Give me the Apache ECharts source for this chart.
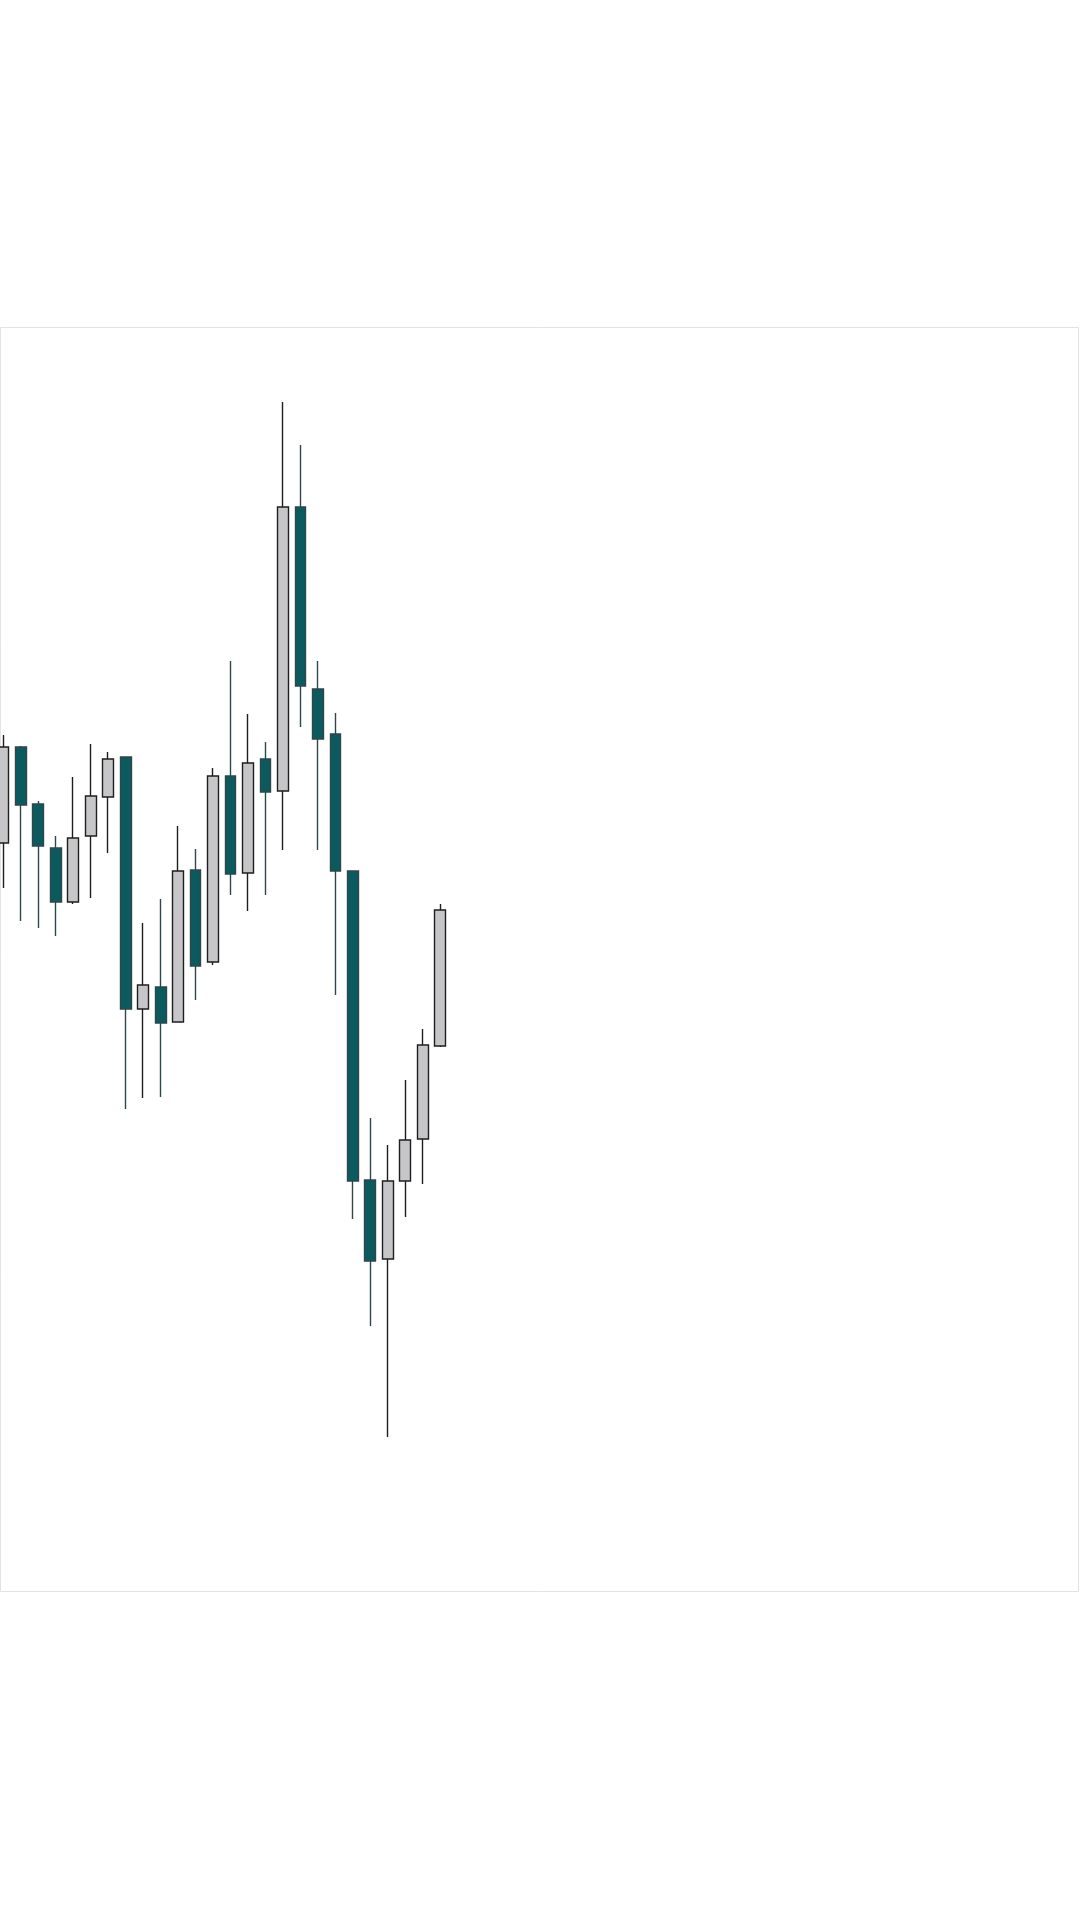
<!DOCTYPE html>
<html>
<head>
<meta charset="utf-8">
<script src="https://cdn.jsdelivr.net/npm/echarts@6/dist/echarts.min.js"></script>
<style>
html,body{margin:0;padding:0;background:#ffffff;}
#chart{width:1080px;height:1920px;}
</style>
</head>
<body>
<div id="chart"></div>
<script>
// Session index of each candle (x position on the axis)
const sessions = [0, 1, 2, 3, 4, 5, 6, 7, 8, 9, 10, 11, 12, 13, 14, 15, 16, 17, 18, 19, 20, 21, 22, 23, 24, 25];
// Price values
const opens  = [74.9, 84.5, 78.8, 74.4, 69.0, 75.6, 79.5, 83.5, 58.3, 60.5, 57.0, 72.2, 63.0, 81.6, 71.9, 83.3, 80.1, 108.5, 90.3, 85.8, 72.1, 41.2, 33.3, 41.1, 45.3, 54.6];
const closes = [84.5, 78.7, 74.6, 69.0, 75.4, 79.6, 83.3, 58.3, 60.7, 56.9, 72.1, 62.6, 81.6, 71.8, 82.9, 80.0, 108.5, 90.6, 85.3, 72.1, 41.1, 33.1, 41.1, 45.2, 54.7, 68.2];
const lows   = [70.4, 67.1, 66.4, 65.6, 68.8, 69.4, 73.9, 48.3, 49.4, 49.5, 57.0, 59.2, 62.7, 69.7, 68.1, 69.7, 74.2, 86.5, 74.2, 59.7, 37.3, 26.6, 15.5, 37.5, 40.8, 54.5];
const highs  = [85.7, 84.6, 79.1, 75.6, 81.5, 84.8, 84.0, 83.5, 66.9, 69.3, 76.6, 74.3, 82.4, 93.1, 87.8, 85.0, 119.0, 114.7, 93.1, 87.9, 72.1, 47.4, 44.7, 51.2, 56.3, 68.8];

const ohlc = sessions.map((s, i) => [s, opens[i], closes[i], lows[i], highs[i]]);

const chart = echarts.init(document.getElementById('chart'), null, {renderer: 'canvas'});
chart.setOption({
  backgroundColor: '#ffffff',
  animation: false,
  grid: {left: 0, right: 1, top: 327, bottom: 328, show: false},
  graphic: [{
    type: 'rect',
    silent: true,
    z: -1,
    shape: {x: 0.5, y: 327.5, width: 1078, height: 1264},
    style: {fill: 'none', stroke: '#e3e3e3', lineWidth: 1}
  }],
  xAxis: {
    type: 'value',
    min: -0.189,
    max: 61.54,
    show: false,
    splitLine: {show: false}
  },
  yAxis: {
    type: 'value',
    min: 0,
    max: 126.5,
    show: false,
    splitLine: {show: false}
  },
  series: [{
    type: 'candlestick',
    data: ohlc,
    encode: {x: 0, y: [1, 2, 3, 4]},
    barWidth: 11.3,
    itemStyle: {
      color: '#c6c6c8',
      color0: '#0a5a5e',
      borderColor: '#1e1e1e',
      borderColor0: '#2f464b',
      borderWidth: 1.4
    }
  }]
});
</script>
</body>
</html>
